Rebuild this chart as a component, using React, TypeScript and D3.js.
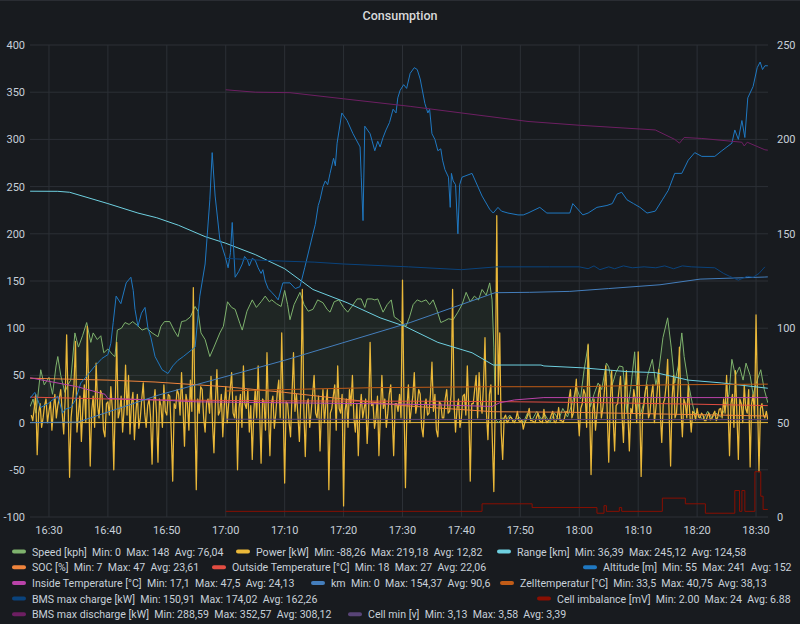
import React from "react";
import * as d3 from "d3";

const W = 800;
const H = 624;

// Time values are minutes after 16:00 on the trip day.
const tripDay = new Date(2021, 6, 10, 16, 0, 0).getTime();
const at = (m: number) => new Date(tripDay + m * 60000);
const viewStart = 26.78;
const viewEnd = 152.03;

// Speed [kph]: [minute, value]
const speed: [number, number][] = [
  [26.8, 17], [27.3, 25], [27.8, 10], [28.6, 56], [29.2, 40], [30.0, 48], [30.6, 30], [31.2, 60], [31.5, 70], [32.0, 50],
  [32.7, 32], [33.2, 40], [33.7, 45], [34.4, 95], [35.0, 80], [35.7, 92], [36.4, 106], [37.1, 85], [37.5, 95], [38.2, 88],
  [38.8, 92], [39.3, 74], [40.0, 78], [40.8, 72], [41.2, 70], [41.6, 98], [42.3, 100], [42.9, 106], [43.6, 104], [44.2, 107],
  [45.0, 103], [45.8, 98], [46.6, 100], [47.5, 95], [48.5, 91], [49.0, 102], [49.6, 107], [50.5, 107], [51.3, 97], [51.9, 91],
  [52.5, 107], [53.2, 108], [54.0, 112], [54.8, 123], [55.3, 118], [55.8, 95], [56.5, 88], [57.3, 70], [58.0, 80], [59.0, 95],
  [59.6, 102], [60.3, 128], [61.0, 122], [61.6, 120], [62.4, 105], [62.8, 98], [63.6, 118], [64.5, 130], [65.2, 122], [66.0, 128],
  [66.7, 134], [67.4, 128], [67.8, 130], [68.6, 126], [69.4, 123], [70.0, 140], [70.5, 125], [70.9, 109], [71.6, 125], [72.6, 138],
  [73.3, 125], [74.0, 118], [74.8, 120], [75.6, 130], [76.5, 127], [77.2, 120], [77.7, 117], [78.4, 128], [79.2, 130], [80.0, 122],
  [80.7, 117], [81.4, 123], [82.3, 131], [83.0, 131], [83.6, 122], [84.0, 131], [84.8, 131], [85.3, 130], [85.8, 131], [86.7, 117],
  [87.4, 125], [88.1, 130], [88.6, 112], [89.3, 109], [90.0, 105], [90.6, 102], [91.2, 112], [91.8, 125], [92.5, 130], [93.2, 128],
  [94.0, 130], [94.6, 125], [95.2, 130], [95.8, 120], [96.5, 106], [97.2, 108], [97.8, 110], [98.6, 109], [99.4, 117], [100.1, 125],
  [100.8, 138], [101.5, 128], [102.2, 134], [102.9, 130], [103.5, 141], [104.2, 135], [104.8, 148], [105.2, 130], [105.5, 80], [105.8, 3],
  [106.3, 0], [107.0, 5], [107.5, 2], [108.2, 8], [109.0, 1], [109.8, 6], [110.5, 0], [111.2, 10], [112.0, 3], [112.8, 12],
  [113.5, 4], [114.2, 8], [115.0, 0], [115.8, 10], [116.5, 3], [117.2, 15], [118.0, 6], [118.8, 20], [119.5, 38], [120.2, 25],
  [120.8, 55], [121.5, 82], [121.9, 17], [122.5, 30], [123.2, 42], [123.8, 35], [124.6, 63], [125.0, 59], [125.6, 40], [126.2, 53],
  [126.8, 60], [127.4, 59], [128.1, 10], [128.7, 35], [129.4, 75], [129.8, 30], [130.3, 7], [130.9, 20], [131.6, 50], [132.4, 67],
  [133.0, 40], [133.6, 60], [134.2, 90], [135.0, 111], [135.6, 80], [136.2, 42], [136.8, 60], [137.4, 95], [137.8, 70], [138.5, 42],
  [139.2, 20], [139.6, 10], [140.3, 8], [141.0, 3], [141.8, 12], [142.5, 5], [143.2, 10], [144.0, 6], [144.8, 15], [145.4, 30],
  [145.9, 67], [146.5, 50], [147.2, 59], [147.8, 45], [148.3, 63], [149.0, 50], [149.5, 30], [150.2, 45], [150.8, 56], [151.4, 35],
  [152.0, 21],
];

// Power [kW]: one reading every quarter minute starting at 16:27
const powerStart = 27;
const powerStep = 0.25;
const powerKw: number[] = [
  8, 2, 15, 30, -34, 10, 20, -5, 5, 18, 25, 0, 12, 22, -8, 14, 30, 5, 18, 26,
  35, 10, -12, 25, 93, 20, -58, 5, 22, 40, 86, -10, 10, 28, -20, 15, 40, 0, 102, 30,
  -46, 12, 28, -5, 63, 18, 5, 34, 30, -8, -15, 20, 22, 8, 38, 15, -50, 20, 85, 5,
  12, 28, -10, 15, 61, 8, 50, -12, 20, 32, -18, 10, 30, -6, 5, 25, 42, 10, -5, 18,
  25, 5, -44, 20, 35, 10, -42, 25, 18, -5, 40, 12, 8, 30, 28, -10, -62, 20, 15, 35,
  30, 8, 53, 15, -25, 30, 20, -8, 45, 12, 143, 20, -71, 25, 10, 38, 35, 5, -10, 22,
  25, 10, 49, 0, -32, 22, 56, 8, 12, 30, -15, 18, 38, 0, 20, 35, 53, 10, 5, 28,
  -50, 15, 30, -5, 60, 20, 15, 35, -10, 18, -39, 10, 35, 5, 60, 12, -43, 25, 22, -8,
  74, 10, -35, 20, 28, -6, 10, 32, 45, 5, 95, 15, -64, 22, 20, 0, -15, 30, 74, 12,
  30, 8, -20, 25, 141, 15, -36, 20, 25, -5, 12, 30, 50, 10, 5, 28, -30, 12, 35, 0,
  20, 35, -71, 10, 15, 28, 40, -8, 60, 15, 10, 30, -88.26, 12, 25, -5, 35, 18, 50, 5,
  -10, 20, -35, 12, 30, 5, 15, 25, -22, 10, 85, 18, 20, -6, 5, 28, -35, 10, 50, 15,
  25, -5, 10, 30, 40, 8, -35, 20, 20, 12, 30, 5, 151, 20, -69, 15, 40, 0, 15, 28,
  53, 10, 20, 35, 30, -5, -15, 18, 25, 8, 10, 30, 64, 12, 30, -8, -15, 22, 20, 5,
  5, 25, 35, 10, 12, 30, 141, 20, -10, 15, 25, -5, 5, 28, 30, 8, 60, 15, -62, 20,
  20, 35, 50, 5, 53, 22, 10, 40, 90, 10, -18, 30, 40, -20, -73, 25, 219.18, 30, 95, -10,
  -39, 5, 8, 0, 2, 6, 5, 1, 0, 4, 12, 2, 1, 3, -7, 0, 3, 8, 15, 2,
  2, 1, 0, 6, 10, 2, 1, 0, 14, 3, 0, 2, 3, 8, 12, 1, 0, 5, 16, 2,
  2, 0, 5, 12, 10, 25, 35, 5, 10, 28, 46, 10, -14, 15, 20, 35, 30, -5, 83, 20,
  -55, 10, 25, -8, 10, 30, 40, 5, 15, 32, 60, 10, -42, 20, 55, 5, -30, 18, 20, 35,
  49, 8, -21, 30, 55, 10, -30, 15, 10, 35, 25, 0, 75, 20, -57, 10, 20, 35, 40, 5,
  10, 30, 40, 0, 15, 35, 56, 10, -21, 20, 25, 40, 67, 10, -46, 25, 50, 5, 10, 35,
  80, 15, -15, 25, 20, 5, 40, 10, -10, 12, 10, 3, 15, 6, 5, 10, 8, 2, 2, 7,
  10, 3, 4, 9, 12, 2, 6, 14, 15, 5, 25, 10, 50, 15, -35, 20, 30, -5, 55, 10,
  -39, 25, 20, 0, 40, 15, 10, 35, -47, 20, 30, 5, 114, 25, -52, 15, 20, 8, 5, 12,
  3,
];

// Range [km]
const range: [number, number][] = [
  [26.8, 245.12], [31.5, 245], [33.5, 244], [40, 232], [45.1, 222], [48.3, 217], [52, 209], [56.5, 197],
  [60, 190], [65, 178], [70, 163], [74.8, 141], [80.6, 127], [86.2, 111], [90.4, 102], [96, 85],
  [101.8, 74], [105.4, 61], [113.5, 61], [114, 60], [120.6, 58], [128.1, 54], [132.9, 53], [138.5, 45],
  [144.2, 42], [152, 36.39],
];

// SOC [%]
const soc: [number, number][] = [
  [26.8, 47], [40, 45], [48, 43], [60, 38], [70, 32], [90, 18], [105.5, 11.5], [118, 11], [135, 9], [152, 7],
];

// Outside Temperature [°C]
const outsideTemp: [number, number][] = [
  [26.8, 27], [40, 25], [48.5, 24], [70, 23], [100, 22.5], [110, 22], [125, 21], [140, 19.5], [152, 18],
];

// Altitude [m] (right axis)
const altitude: [number, number][] = [
  [26.8, 63], [27.6, 66], [28.6, 58], [29.8, 60], [30.6, 62], [31.5, 64], [32.3, 55], [32.7, 57], [33.7, 58], [34.5, 62],
  [35.4, 71], [36.5, 75], [37.8, 80], [39.0, 84], [40.0, 86], [40.5, 92], [40.9, 103], [41.4, 117], [42.2, 113], [43.1, 124],
  [43.9, 127], [44.3, 120], [44.6, 110], [45.1, 101], [45.7, 108], [46.3, 111], [46.8, 100], [47.3, 95], [48.0, 85], [49.2, 78],
  [50.2, 76], [51.0, 80], [51.9, 83], [52.8, 85], [53.6, 87], [54.8, 90], [55.6, 117], [56.5, 134], [57.3, 168], [57.7, 193],
  [58.2, 170], [59.0, 147], [59.9, 138], [60.4, 132], [60.8, 140], [61.1, 156], [61.6, 127], [62.2, 130], [62.8, 134], [63.2, 138],
  [63.7, 136], [64.0, 133], [64.5, 137], [65.0, 136], [65.5, 132], [66.0, 129], [66.3, 131], [66.7, 125], [67.2, 121], [67.8, 119],
  [68.4, 117], [68.9, 115], [69.7, 124], [70.9, 124], [71.8, 121], [72.6, 122], [73.4, 132], [74.8, 150], [75.2, 155], [75.7, 165],
  [76.0, 168], [76.5, 175], [76.9, 178], [77.3, 176], [77.7, 182], [78.3, 190], [78.6, 186], [78.9, 198], [79.7, 214], [80.6, 210],
  [81.6, 203], [82.8, 196], [83.0, 180], [83.3, 157], [83.6, 207], [84.5, 203], [85.3, 194], [85.8, 199], [86.2, 196], [86.7, 201],
  [87.2, 205], [87.8, 209], [88.4, 216], [88.9, 214], [89.2, 222], [89.6, 226], [90.2, 229], [90.7, 227], [91.3, 235], [92.0, 238],
  [92.5, 237], [93.0, 232], [93.8, 219], [94.3, 214], [94.6, 216], [95.0, 203], [95.5, 200], [96.0, 194], [96.5, 195], [96.8, 189],
  [97.2, 184], [97.8, 180], [98.1, 164], [98.3, 182], [98.6, 178], [99.0, 176], [99.4, 150], [99.7, 176], [100.1, 180], [101.8, 182],
  [103.5, 170], [104.8, 163], [105.4, 161], [106.2, 164], [106.8, 162], [107.9, 161], [109.6, 160], [110.5, 160], [111.3, 161], [113.3, 164],
  [114.5, 161], [118.4, 161], [118.9, 166], [120.6, 160], [121.5, 161], [123.0, 164], [124.7, 165], [125.6, 166], [126.4, 171], [127.2, 172],
  [128.1, 168], [129.2, 166], [130.3, 164], [131.5, 161], [132.9, 162], [134.1, 168], [135.1, 173], [136.2, 182], [137.4, 182], [138.5, 189],
  [139.6, 193], [140.8, 191], [143.0, 191], [144.2, 194], [145.9, 198], [146.4, 205], [147.0, 200], [147.6, 210], [148.1, 201], [148.6, 222],
  [149.5, 228], [150.2, 238], [150.7, 241], [151.1, 237], [151.5, 239], [152.0, 239],
];

// Inside Temperature [°C]
const insideTemp: [number, number][] = [
  [26.8, 47.5], [34.8, 38], [39.5, 30], [40, 25.5], [48.5, 24], [55, 22], [70, 21], [85, 20], [94.7, 19],
  [105.2, 17.1], [106.5, 21], [109, 24], [114, 26.5], [152, 26.5],
];

// km driven
const km: [number, number][] = [
  [26.8, 0], [34.9, 0.5], [48.5, 29], [70, 66], [91.3, 106], [105.7, 137.6], [111.6, 138], [118.4, 139],
  [125, 142], [133.7, 146], [140.5, 152], [151.5, 154.2], [152, 154.37],
];

// Zelltemperatur [°C]
const cellTemp: [number, number][] = [
  [60, 33.5], [70, 35], [85, 37], [105.5, 38], [120, 38], [135, 40], [152, 40.75],
];

// BMS max charge [kW]
const bmsCharge: [number, number][] = [
  [60, 174.02], [66, 172], [70, 171], [75, 170], [80, 168], [91, 165], [100, 162], [106, 165], [115, 165],
  [120, 165], [121.5, 163], [122.5, 166], [123.5, 162], [125, 165], [126, 163], [127.5, 166], [129, 164],
  [131, 165], [133, 164], [134.5, 166], [136, 163], [137.5, 166], [139, 165], [143, 164], [144.5, 158],
  [145.5, 155], [147, 150.91], [148.5, 155], [149.5, 154], [150.5, 158], [151.5, 165],
];

// Cell imbalance [mV] (right axis, stepped)
const cellImbalance: [number, number][] = [
  [60, 3], [103.5, 7], [112, 5], [123, 2], [124.2, 6], [124.6, 3], [126.8, 5], [127.2, 3], [134.1, 10],
  [138, 7], [141.4, 2], [146.4, 14], [147.2, 3], [147.6, 14], [148.1, 3], [149.8, 24], [150.8, 11],
  [151.2, 4], [152, 4],
];

// BMS max discharge [kW]
const bmsDischarge: [number, number][] = [
  [60, 352.57], [65, 350], [70.9, 349.5], [80, 343], [91.3, 335], [100, 328], [111.3, 319], [120, 315],
  [132.9, 310], [136.2, 300], [137, 296], [137.8, 302], [140.8, 301], [147.6, 297], [148, 293],
  [148.5, 297], [151.5, 289], [152, 288.59],
];

// Cell min [v]
const cellMin: [number, number][] = [
  [60, 3.58], [80, 3.45], [105, 3.3], [130, 3.2], [152, 3.13],
];

// Legend texts
const legendNames = [
  "Speed [kph]", "Power [kW]", "Range [km]", "SOC [%]", "Outside Temperature [°C]", "Altitude [m]",
  "Inside Temperature [°C]", "km", "Zelltemperatur [°C]", "BMS max charge [kW]", "Cell imbalance [mV]",
  "BMS max discharge [kW]", "Cell min [v]",
];
const legendMin = ["0", "-88,26", "36,39", "7", "18", "55", "17,1", "0", "33,5", "150,91", "2.00", "288,59", "3,13"];
const legendMax = ["148", "219,18", "245,12", "47", "27", "241", "47,5", "154,37", "40,75", "174,02", "24", "352,57", "3,58"];
const legendAvg = ["76,04", "12,82", "124,58", "23,61", "22,06", "152", "24,13", "90,6", "38,13", "162,26", "6.88", "308,12", "3,39"];

const leftTicks = [-100, -50, 0, 50, 100, 150, 200, 250, 300, 350, 400];
const rightTicks = [0, 50, 100, 150, 200, 250];

const palette = [
  "#7EB26D", "#EAB839", "#6ED0E0", "#EF843C", "#E24D42", "#1F78C1", "#BA43A9",
  "#447EBC", "#C15C17", "#0A437C", "#890F02", "#6D1F62", "#584477",
];

// Legend placement: [row, swatch x]
const legendSlots: [number, number][] = [
  [0, 12], [0, 236], [0, 497],
  [1, 12], [1, 212], [1, 583],
  [2, 12], [2, 311], [2, 500],
  [3, 12], [3, 537],
  [4, 12], [4, 348],
];

export default function App() {
  const left = 30, right = 768, top = 45, bottom = 517;
  const x = d3.scaleTime().domain([at(viewStart), at(viewEnd)]).range([left, right]);
  const yL = d3.scaleLinear().domain([-100, 400]).range([bottom, top]);
  const yR = d3.scaleLinear().domain([0, 250]).range([bottom, top]);

  const power: [number, number][] = powerKw.map((v, i) => [powerStart + i * powerStep, v]);

  const series = [
    { data: speed, y: yL, color: palette[0], width: 1 },
    { data: power, y: yL, color: palette[1], width: 1.25 },
    { data: range, y: yL, color: palette[2], width: 1 },
    { data: soc, y: yL, color: palette[3], width: 1 },
    { data: outsideTemp, y: yL, color: palette[4], width: 1 },
    { data: altitude, y: yR, color: palette[5], width: 1 },
    { data: insideTemp, y: yL, color: palette[6], width: 1 },
    { data: km, y: yL, color: palette[7], width: 1 },
    { data: cellTemp, y: yL, color: palette[8], width: 1 },
    { data: bmsCharge, y: yL, color: palette[9], width: 1 },
    { data: cellImbalance, y: yR, color: palette[10], width: 1, step: true },
    { data: bmsDischarge, y: yL, color: palette[11], width: 1 },
    { data: cellMin, y: yL, color: palette[12], width: 1 },
  ];

  const timeTicks = d3.timeMinute.every(10)!.range(at(30), at(151));
  const fmt = d3.timeFormat("%H:%M");

  const speedArea = d3
    .area<[number, number]>()
    .x((d) => x(at(d[0])))
    .y0(yL(0))
    .y1((d) => yL(d[1]))(speed);

  const font = "Roboto, 'Noto Sans', sans-serif";
  const textColor = "#c7d0d9";
  const rowY = (r: number) => 551.5 + r * 15.7;

  return (
    <svg width={W} height={H} style={{ display: "block", position: "absolute", left: 0, top: 0, background: "#181b1f" }}>
      <rect x={0} y={0} width={W} height={H} fill="#181b1f" />
      <rect x={0} y={0} width={W} height={1} fill="#2a2d33" />
      <text x={400} y={20} textAnchor="middle" fill="#d8d9da" fontFamily={font} fontSize={12.5} fontWeight={500}>
        Consumption
      </text>
      <defs>
        <clipPath id="plot">
          <rect x={left} y={top - 2} width={right - left} height={bottom - top + 4} />
        </clipPath>
      </defs>
      {leftTicks.map((t) => (
        <g key={"l" + t}>
          <line x1={left} x2={right} y1={yL(t)} y2={yL(t)} stroke="#2c3036" strokeWidth={1} />
          <text x={25} y={yL(t) + 4} textAnchor="end" fill={textColor} fontFamily={font} fontSize={11}>
            {t}
          </text>
        </g>
      ))}
      {rightTicks.map((t) => (
        <text key={"r" + t} x={777} y={yR(t) + 4} fill={textColor} fontFamily={font} fontSize={11}>
          {t}
        </text>
      ))}
      {timeTicks.map((t) => (
        <g key={"t" + t.getTime()}>
          <line x1={x(t)} x2={x(t)} y1={top} y2={bottom} stroke="#2c3036" strokeWidth={1} />
          <text x={x(t)} y={534} textAnchor="middle" fill={textColor} fontFamily={font} fontSize={11}>
            {fmt(t)}
          </text>
        </g>
      ))}
      <g clipPath="url(#plot)">
        <path d={speedArea ?? ""} fill={palette[0]} fillOpacity={0.07} />
        <line x1={left} x2={right} y1={yL(0)} y2={yL(0)} stroke={palette[1]} strokeWidth={1} />
        {series.map((s, i) => {
          const gen = d3
            .line<[number, number]>()
            .x((d) => x(at(d[0])))
            .y((d) => s.y(d[1]))
            .curve(s.step ? d3.curveStepAfter : d3.curveLinear);
          return (
            <path key={i} d={gen(s.data) ?? ""} fill="none" stroke={s.color} strokeWidth={s.width} strokeLinejoin="round" />
          );
        })}
      </g>
      {legendNames.map((name, i) => {
        const [row, sx] = legendSlots[i];
        const cy = rowY(row);
        return (
          <g key={name}>
            <rect x={sx} y={cy - 2} width={14} height={4} rx={2} fill={palette[i]} />
            <text
              x={sx + 20}
              y={cy + 4}
              fill={textColor}
              fontFamily={font}
              fontSize={10.6}
              style={{ whiteSpace: "pre" }}
            >
              {`${name}  Min: ${legendMin[i]}  Max: ${legendMax[i]}  Avg: ${legendAvg[i]}`}
            </text>
          </g>
        );
      })}
    </svg>
  );
}
